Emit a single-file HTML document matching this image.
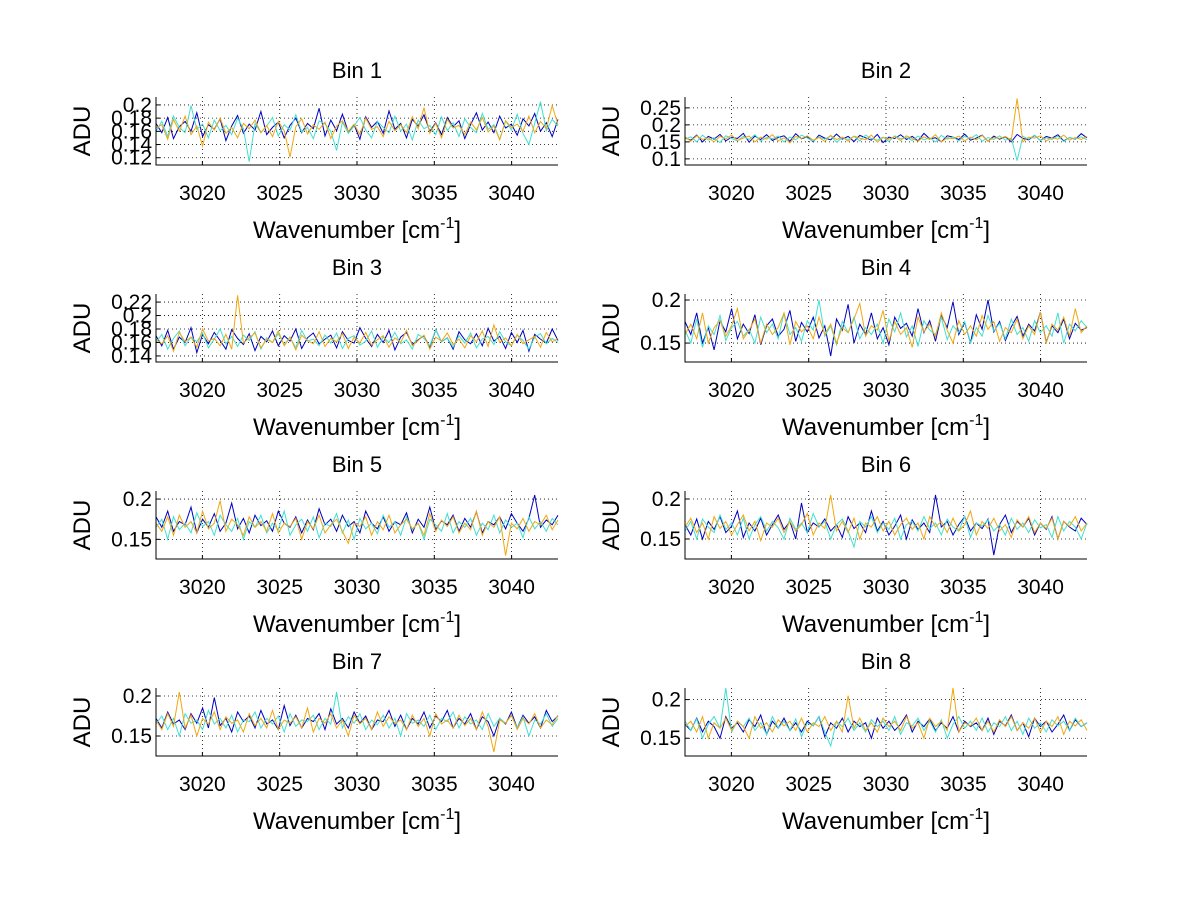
<!DOCTYPE html>
<html><head><meta charset="utf-8"><style>
html,body{margin:0;padding:0;background:#fff;}
svg{display:block;font-family:"Liberation Sans",sans-serif;}
</style></head><body>
<svg id="fig" width="1200" height="901" viewBox="0 0 1200 901"></svg>
<script>
// x-axis data
const xMin = 3017, xMax = 3043;
const xTicks = [3020, 3025, 3030, 3035, 3040];
const binTitles = ["Bin 1","Bin 2","Bin 3","Bin 4","Bin 5","Bin 6","Bin 7","Bin 8"];
const yRanges = [[0.109,0.212],[0.082,0.282],[0.131,0.232],[0.128,0.207],[0.1256,0.21],[0.125,0.21],[0.125,0.21],[0.127,0.215]];
const yTickLabels = [
  ["0.12","0.14","0.16","0.18","0.2"],
  ["0.1","0.15","0.2","0.25"],
  ["0.14","0.16","0.18","0.2","0.22"],
  ["0.15","0.2"],["0.15","0.2"],["0.15","0.2"],["0.15","0.2"],["0.15","0.2"]
];
const seriesColors = ["#0000c0","#40e0d0","#f0a810"];
// series values in thousandths of ADU
const bin1Blue = [172,158,181,149,167,175,160,188,152,170,163,179,146,168,184,157,171,162,190,155,166,174,150,169,180,158,172,164,195,153,177,161,186,159,170,148,182,166,175,157,191,163,172,150,178,168,185,160,173,155,181,167,176,149,170,188,162,174,158,183,165,171,154,179,168,187,160,173,152,178];
const bin1Cyan = [160,175,152,183,166,158,199,163,171,150,177,161,169,155,180,164,114,172,158,168,181,153,170,162,185,159,166,149,176,171,160,131,174,157,168,181,162,150,175,166,158,183,160,171,147,177,164,169,155,182,161,173,152,179,166,158,187,163,170,148,176,162,186,157,140,172,205,161,178,168];
const bin1Orange = [165,170,148,178,160,183,155,168,138,174,162,180,157,166,150,172,164,177,158,169,152,175,161,121,167,179,156,170,163,174,149,168,176,160,171,155,180,163,167,152,175,161,170,158,182,164,196,157,172,150,178,165,169,155,174,162,181,159,168,147,176,166,171,160,183,158,175,164,199,170];
const bin2Blue = [162,155,170,150,166,158,172,153,164,160,175,149,167,157,171,154,163,168,152,174,159,165,150,170,161,156,173,158,166,151,169,162,155,172,148,164,160,171,157,166,153,175,159,162,150,168,164,157,173,155,161,170,152,167,158,165,150,172,160,156,169,154,166,161,171,153,163,158,174,162];
const bin2Cyan = [158,165,150,170,155,162,148,168,160,153,166,157,171,152,163,159,167,150,164,156,170,161,152,165,158,168,149,162,157,166,153,170,160,155,164,151,168,159,163,154,167,156,162,150,169,158,164,153,166,160,171,152,163,157,168,155,161,95,166,158,170,154,162,157,167,151,163,159,165,156];
const bin2Orange = [165,152,168,157,162,150,166,159,170,154,161,167,150,164,158,171,153,162,147,166,160,168,155,163,151,169,157,164,152,167,161,156,170,149,163,158,166,154,168,160,152,165,157,171,150,162,159,167,153,164,156,169,152,163,160,166,155,278,150,164,161,168,153,162,158,170,155,163,157,166];
const bin3Blue = [170,155,178,150,168,160,182,145,172,158,175,163,150,179,166,157,173,148,169,161,177,155,170,162,180,151,167,174,158,165,171,152,176,163,159,182,166,154,172,160,178,149,168,175,157,164,170,153,179,161,167,150,176,164,158,173,155,181,162,169,151,175,160,178,147,172,165,159,180,163];
const bin3Cyan = [160,172,150,166,177,155,168,161,174,152,165,180,158,169,154,171,163,176,150,167,160,173,157,168,152,178,162,165,155,171,159,174,151,166,170,156,162,177,153,168,160,175,158,164,150,172,166,155,179,161,167,153,170,159,174,152,165,169,157,176,161,155,171,163,150,168,173,158,166,160];
const bin3Orange = [165,158,170,147,175,161,168,153,180,162,166,155,172,150,230,159,167,174,152,165,160,177,155,168,149,171,163,158,176,154,166,161,173,151,168,159,175,156,164,170,153,167,160,178,155,163,171,150,168,162,174,157,165,152,170,161,177,154,186,160,167,155,172,158,164,169,153,175,161,166];
const bin4Blue = [175,160,185,150,168,142,176,163,190,155,172,161,183,148,170,178,158,166,188,152,174,163,180,156,170,135,178,165,195,150,172,160,185,155,168,148,180,167,173,158,190,162,176,152,182,168,198,160,174,150,183,166,200,163,175,153,169,181,158,172,164,186,151,170,162,178,155,173,165,168];
const bin4Cyan = [165,150,178,145,170,160,182,153,168,175,158,166,150,180,162,172,155,185,160,168,152,176,165,200,158,170,148,175,162,180,155,168,160,172,150,178,163,185,157,170,146,176,165,160,180,154,170,162,175,150,168,158,182,164,173,155,178,160,168,152,176,162,170,158,185,150,172,164,176,168];
const bin4Orange = [160,172,155,185,150,168,176,158,170,190,155,165,178,150,172,160,168,185,148,175,163,170,155,180,160,172,150,168,162,178,196,158,170,165,188,152,175,160,168,145,180,163,172,157,185,165,150,176,160,170,158,182,166,175,152,168,162,178,155,170,160,186,150,172,165,180,158,190,162,170];
const bin5Blue = [178,165,185,160,172,168,190,158,175,165,182,160,170,195,163,176,158,180,167,173,160,185,170,165,178,158,174,162,188,168,175,160,180,166,172,158,185,170,163,178,160,172,168,183,158,175,165,190,162,173,168,180,160,176,165,184,158,172,168,178,163,182,170,160,176,205,165,174,168,180];
const bin5Cyan = [165,175,150,178,162,170,158,183,166,172,155,180,168,160,176,150,172,165,180,158,170,162,185,155,168,175,160,178,152,170,166,182,158,174,150,176,163,170,157,180,165,172,155,178,162,170,150,175,168,160,182,158,172,165,176,155,170,162,180,158,174,165,170,152,178,163,172,160,176,168];
const bin5Orange = [170,160,178,155,180,165,172,158,185,163,170,198,160,175,168,155,178,165,172,160,182,158,170,166,176,150,172,163,180,158,168,175,160,145,170,166,178,155,172,162,180,158,168,175,163,170,155,182,160,174,166,178,158,170,162,185,155,172,165,178,130,170,163,176,160,172,168,180,162,174];
const bin6Blue = [168,155,175,150,172,162,178,158,166,185,152,170,160,176,155,168,180,162,172,150,195,158,170,165,175,160,168,152,178,163,170,158,185,160,172,155,166,180,150,174,162,170,158,205,165,172,155,168,178,160,170,163,175,130,168,180,158,172,165,176,155,170,162,178,150,172,165,160,176,168];
const bin6Cyan = [160,172,150,175,165,158,180,162,170,155,176,150,168,178,160,172,164,150,176,162,170,158,182,165,172,150,168,175,160,140,172,165,178,158,170,162,176,150,168,172,160,178,163,170,155,175,165,160,178,152,170,166,174,160,168,155,176,162,170,158,174,164,168,152,178,160,172,165,150,170];
const bin6Orange = [165,176,158,170,150,178,163,172,155,168,180,160,172,148,170,165,176,158,172,160,168,182,155,170,163,205,160,172,158,176,150,170,165,178,160,172,155,168,176,162,170,150,178,165,172,158,176,160,168,185,155,172,163,176,160,168,152,174,165,178,158,170,163,176,150,172,166,178,160,170];
const bin7Blue = [172,160,180,165,170,158,178,166,185,160,198,163,172,155,180,168,175,160,182,165,170,158,188,163,176,160,172,168,178,158,184,165,172,160,180,166,175,158,170,168,182,162,176,158,172,165,180,160,175,168,182,160,172,165,178,158,174,168,150,172,165,180,160,176,166,174,160,182,168,175];
const bin7Cyan = [165,175,158,172,150,178,166,170,158,182,165,172,160,176,155,170,168,180,160,172,165,175,155,178,162,170,168,176,158,172,165,205,160,174,166,178,158,170,164,176,160,172,150,178,166,170,162,176,158,172,168,180,160,174,165,170,158,178,162,172,166,176,160,174,150,170,165,178,162,172];
const bin7Orange = [170,158,178,162,205,160,176,150,172,165,180,158,174,166,170,155,178,163,172,160,182,158,170,166,174,160,185,155,172,166,178,160,170,150,176,165,172,158,180,162,174,166,170,158,176,162,172,150,178,165,170,160,176,163,172,158,180,162,130,170,166,176,158,172,165,178,160,170,164,176];
const bin8Blue = [168,160,176,158,172,165,150,178,163,170,158,174,165,180,155,172,163,176,160,170,158,172,166,178,152,170,163,176,158,172,165,170,150,176,163,172,160,168,180,158,172,165,175,160,170,163,178,158,172,165,170,160,176,155,172,166,180,160,170,152,176,165,172,158,168,180,160,174,165,170];
const bin8Cyan = [172,160,175,150,168,178,163,215,158,172,165,176,160,170,155,178,163,172,160,175,152,170,166,178,158,140,172,165,176,160,170,158,174,165,172,160,178,155,170,166,176,160,172,158,174,150,168,178,163,172,160,176,158,170,165,178,160,172,155,176,163,170,158,174,166,172,160,176,165,170];
const bin8Orange = [165,172,158,178,150,170,163,176,160,172,165,150,178,163,170,158,174,166,172,160,176,158,170,165,178,160,172,158,205,163,176,160,170,158,176,165,172,160,178,163,170,150,176,165,172,160,215,158,170,166,176,160,172,158,174,165,178,160,170,163,176,158,172,165,178,155,172,166,174,160];
const binSeries = [
  [bin1Blue,bin1Cyan,bin1Orange],[bin2Blue,bin2Cyan,bin2Orange],
  [bin3Blue,bin3Cyan,bin3Orange],[bin4Blue,bin4Cyan,bin4Orange],
  [bin5Blue,bin5Cyan,bin5Orange],[bin6Blue,bin6Cyan,bin6Orange],
  [bin7Blue,bin7Cyan,bin7Orange],[bin8Blue,bin8Cyan,bin8Orange]
];

const NS = "http://www.w3.org/2000/svg";
const svg = document.getElementById("fig");
function mk(tag, attrs, parent) {
  const e = document.createElementNS(NS, tag);
  for (const k in attrs) e.setAttribute(k, attrs[k]);
  (parent || svg).appendChild(e);
  return e;
}
const colX = [156, 685], rowY = [97, 294, 491, 688];
const W = 402, H = 68;

binTitles.forEach((title, b) => {
  const x0 = colX[b % 2], y0 = rowY[Math.floor(b / 2)];
  const [ymin, ymax] = yRanges[b];
  const sx = v => x0 + (v - xMin) / (xMax - xMin) * W;
  const sy = v => y0 + H - (v - ymin) / (ymax - ymin) * H;
  const g = mk("g", {});
  
  

  xTicks.forEach(t => {
    const l = mk("line", {x1: sx(t), x2: sx(t), y1: y0, y2: y0 + H, stroke: "#000", "stroke-width": 0.8, "stroke-dasharray": "1,3"}, g);
    
    
  });
  yTickLabels[b].forEach(t => {
    const v = parseFloat(t);
    const l = mk("line", {x1: x0, x2: x0 + W, y1: sy(v), y2: sy(v), stroke: "#000", "stroke-width": 0.8, "stroke-dasharray": "1,3"}, g);
    
    
  });

  binSeries[b].forEach((vals, s) => {
    const n = vals.length;
    const pts = vals.map((v, i) => sx(xMin + (xMax - xMin) * i / (n - 1)).toFixed(1) + "," + sy(v / 1000).toFixed(1)).join(" ");
    const pl = mk("polyline", {points: pts, fill: "none", stroke: seriesColors[s], "stroke-width": 1}, g);
    
    
  });

  const ax = mk("path", {d: `M${x0},${y0}V${y0 + H}H${x0 + W}`, fill: "none", stroke: "#000", "stroke-width": 1}, g);
  
  

  xTicks.forEach(t => {
    mk("line", {x1: sx(t), x2: sx(t), y1: y0 + H, y2: y0 + H - 4, stroke: "#000"}, g);
    const tx = mk("text", {x: sx(t), y: y0 + H + 35, "text-anchor": "middle", "font-size": 21, fill: "#000"}, g);
    tx.textContent = t;
    
    
  });
  yTickLabels[b].forEach(t => {
    const v = parseFloat(t);
    mk("line", {x1: x0, x2: x0 + 4, y1: sy(v), y2: sy(v), stroke: "#000"}, g);
    const tx = mk("text", {x: x0 - 4, y: sy(v) + 7, "text-anchor": "end", "font-size": 21, fill: "#000"}, g);
    tx.textContent = t;
    
    
  });

  const ti = mk("text", {x: x0 + W / 2, y: y0 - 19, "text-anchor": "middle", "font-size": 22, fill: "#000"}, g);
  ti.textContent = title;
  
  

  const yl = mk("text", {x: 0, y: 0, "text-anchor": "middle", "font-size": 24, fill: "#000", transform: `translate(${x0 - 66},${y0 + H / 2}) rotate(-90)`}, g);
  yl.textContent = "ADU";
  
  

  const xl = mk("text", {x: x0 + W / 2, y: y0 + H + 73, "text-anchor": "middle", "font-size": 24, fill: "#000"}, g);
  
  
  xl.appendChild(document.createTextNode("Wavenumber [cm"));
  const sup = mk("tspan", {dy: -10, "font-size": 16}, xl);
  sup.textContent = "-1";
  const rest = mk("tspan", {dy: 10}, xl);
  rest.textContent = "]";
});
</script>
</body></html>
